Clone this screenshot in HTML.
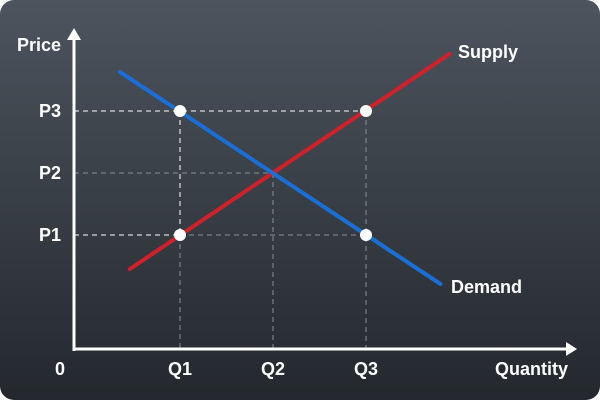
<!DOCTYPE html>
<html><head><meta charset="utf-8"><style>
html,body{margin:0;padding:0;background:#fff;}
svg{display:block;font-family:"Liberation Sans",sans-serif;font-weight:bold;}
</style></head><body>
<svg id="c" width="600" height="400" viewBox="0 0 600 400">
<defs><linearGradient id="bg" x1="0" y1="0" x2="0" y2="1"><stop offset="0" stop-color="#4c545e"/><stop offset="1" stop-color="#24282d"/></linearGradient></defs>
<rect x="0" y="0" width="600" height="400" rx="14" fill="url(#bg)"/>
<g id="grid"></g>
<g id="lines"></g>
<g id="pts"></g>
<line x1="74" y1="349" x2="568" y2="349" stroke="#fff" stroke-width="3"/>
<polygon points="566,342 577,349 566,356" fill="#fff"/>
<line x1="74" y1="351" x2="74" y2="38" stroke="#fff" stroke-width="3"/>
<polygon points="67,40 74,28 81,40" fill="#fff"/>
<text x="61" y="51" fill="#fff" font-size="18" text-anchor="end">Price</text>
<text x="568" y="375" fill="#fff" font-size="18" text-anchor="end">Quantity</text>
<text x="60" y="375" fill="#fff" font-size="18" text-anchor="middle">0</text>
<text x="458" y="58" fill="#fff" font-size="18">Supply</text>
<text x="451" y="293" fill="#fff" font-size="18">Demand</text>
<g id="ticks"></g>
</svg>
<script>
const qLabels=["Q1","Q2","Q3"];
const qValues=[1,2,3];
const pLabels=["P1","P2","P3"];
const pValues=[1,2,3];
const demandQ=[0.355,3.8];
const demandP=[3.63,0.21];
const supplyQ=[0.46,3.9];
const supplyP=[0.45,3.92];
const pointQ=[1,3,1,3];
const pointP=[3,3,1,1];
const NS="http://www.w3.org/2000/svg";
function x(q){return 87+93*q;}
function y(p){return 297-62*p;}
function mk(parent,tag,attrs){const e=document.createElementNS(NS,tag);for(const k in attrs)e.setAttribute(k,attrs[k]);document.getElementById(parent).appendChild(e);return e;}
function dash(x1,y1,x2,y2,white,name){const e=mk('grid','line',{x1:x1,y1:y1,x2:x2,y2:y2,stroke:white?'#ffffff':'#8a9097','stroke-width':1,'stroke-dasharray':'5,4'});

}
dash(74,y(2),x(2),y(2),false,'guide-p2');
dash(x(1),y(1),x(3),y(1),false,'guide-p1-right');
dash(x(1),y(1),x(1),349,false,'guide-q1-lower');
dash(x(2),y(2),x(2),349,false,'guide-q2');
dash(x(3),y(3),x(3),349,false,'guide-q3');
dash(74,y(3),x(3),y(3),true,'guide-p3');
dash(74,y(1),x(1),y(1),true,'guide-p1-left');
dash(x(1),y(3),x(1),y(1),true,'guide-q1-upper');
const s=mk('lines','line',{x1:x(supplyQ[0]),y1:y(supplyP[0]),x2:x(supplyQ[1]),y2:y(supplyP[1]),stroke:'#d0202a','stroke-width':4,'stroke-linecap':'round'});


const d=mk('lines','line',{x1:x(demandQ[0]),y1:y(demandP[0]),x2:x(demandQ[1]),y2:y(demandP[1]),stroke:'#1a6fd6','stroke-width':4,'stroke-linecap':'round'});


for(let i=0;i<pointQ.length;i++){const c=mk('pts','circle',{cx:x(pointQ[i]),cy:y(pointP[i]),r:6,fill:'#fff'});

}
for(let i=0;i<qLabels.length;i++){const t=mk('ticks','text',{x:x(qValues[i]),y:375,fill:'#fff','font-size':18,'text-anchor':'middle'});t.textContent=qLabels[i];

}
for(let i=0;i<pLabels.length;i++){const t=mk('ticks','text',{x:61,y:y(pValues[i])+6,fill:'#fff','font-size':18,'text-anchor':'end'});t.textContent=pLabels[i];

}
</script>
</body></html>
